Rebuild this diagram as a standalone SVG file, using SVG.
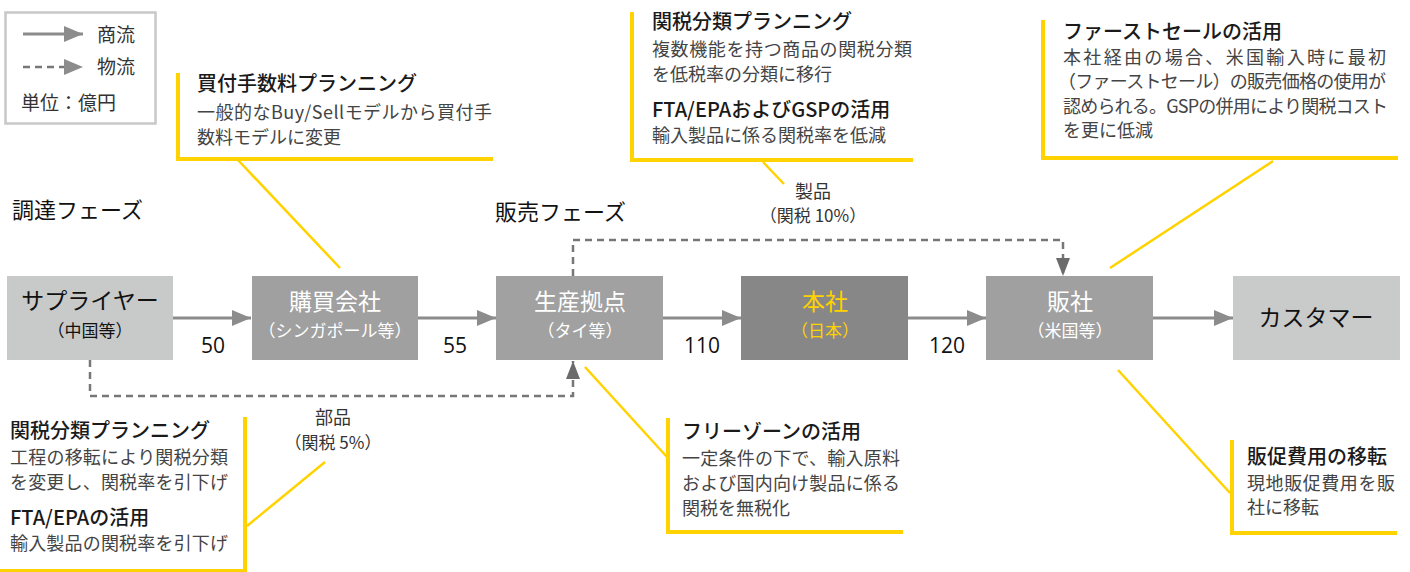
<svg xmlns="http://www.w3.org/2000/svg" width="1410" height="572" viewBox="0 0 1410 572">
<style>
text{font-family:"Noto Sans CJK JP","Noto Sans",sans-serif}
.ttl{font-size:20px;font-weight:500;fill:#1a1a1a}
.bd{font-size:18px;fill:#444}
.nt{font-size:23px;text-anchor:middle}
.ns{font-size:17px;text-anchor:middle}
.w{fill:#ffffff}
.k{fill:#111}
.y{fill:#FFD200}
.num{font-size:21px;fill:#111;text-anchor:middle;font-family:"Open Sans","Noto Sans",sans-serif}
.lbl{font-size:17px;fill:#333;text-anchor:middle}
.ph{font-size:22px;fill:#111}
.brk{fill:none;stroke:#FFD200;stroke-width:4}
.dg{stroke:#FFD200;stroke-width:2.5}
.sol{stroke:#8c8c8c;stroke-width:3;fill:none}
.dsh{stroke:#777;stroke-width:2.5;fill:none;stroke-dasharray:7 5}
</style>
<defs>
<marker id="ah" markerUnits="userSpaceOnUse" markerWidth="20" markerHeight="16" refX="19" refY="8" orient="auto"><path d="M0,0 L19,8 L0,16 Z" fill="#8c8c8c"/></marker>
<marker id="ahd" markerUnits="userSpaceOnUse" markerWidth="18" markerHeight="14" refX="18" refY="7" orient="auto"><path d="M0,0 L18,7 L0,14 Z" fill="#6b6b6b"/></marker>
</defs>

<g id="legend">
<rect x="5.5" y="12.5" width="150" height="111" fill="#fff" stroke="#c8c8c8" stroke-width="2.5"/>
<line x1="23" y1="34" x2="83" y2="34" class="sol" marker-end="url(#ah)"/>
<line x1="23" y1="67" x2="83" y2="67" class="dsh" marker-end="url(#ah)"/>
<text x="97" y="42" style="font-size:19px;fill:#333">商流</text>
<text x="97" y="74" style="font-size:19px;fill:#333">物流</text>
<text x="21" y="110" style="font-size:19px;fill:#333">単位：億円</text>
</g>

<g id="phases">
<text x="12" y="218" class="ph">調達フェーズ</text>
<text x="495" y="220" class="ph">販売フェーズ</text>
</g>

<g id="connectors">
<line x1="173" y1="318" x2="251" y2="318" class="sol" marker-end="url(#ah)"/>
<line x1="418" y1="318" x2="496" y2="318" class="sol" marker-end="url(#ah)"/>
<line x1="663" y1="318" x2="741" y2="318" class="sol" marker-end="url(#ah)"/>
<line x1="908" y1="318" x2="986" y2="318" class="sol" marker-end="url(#ah)"/>
<line x1="1153" y1="318" x2="1233" y2="318" class="sol" marker-end="url(#ah)"/>
<polyline points="90,360 90,396 573,396 573,361" class="dsh" marker-end="url(#ahd)"/>
<polyline points="573,276 573,240 1063,240 1063,276" class="dsh" marker-end="url(#ahd)"/>
<text x="213" y="353" class="num">50</text>
<text x="455" y="353" class="num">55</text>
<text x="702" y="353" class="num">110</text>
<text x="947" y="353" class="num">120</text>
<text x="813" y="198" class="lbl" style="font-size:18px">製品</text>
<text x="813" y="222" class="lbl">（関税 10%）</text>
<text x="333" y="424" class="lbl" style="font-size:18px">部品</text>
<text x="333" y="449" class="lbl">（関税 5%）</text>
</g>

<g id="supplier">
<rect x="7" y="276" width="166" height="84" fill="#c8c9c9"/>
<text x="90" y="309" class="nt k">サプライヤー</text>
<text x="90" y="337" class="ns k">（中国等）</text>
</g>
<g id="purchasing">
<rect x="252" y="276" width="166" height="84" fill="#a0a0a0"/>
<text x="335" y="310" class="nt w">購買会社</text>
<text x="335" y="337" class="ns w">（シンガポール等）</text>
</g>
<g id="production">
<rect x="496" y="276" width="167" height="84" fill="#a0a1a0"/>
<text x="580" y="310" class="nt w">生産拠点</text>
<text x="580" y="337" class="ns w">（タイ等）</text>
</g>
<g id="hq">
<rect x="741" y="276" width="167" height="84" fill="#888787"/>
<text x="825" y="310" class="nt y">本社</text>
<text x="825" y="337" class="ns y">（日本）</text>
</g>
<g id="sales">
<rect x="986" y="276" width="167" height="84" fill="#a0a0a0"/>
<text x="1070" y="310" class="nt w">販社</text>
<text x="1070" y="337" class="ns w">（米国等）</text>
</g>
<g id="customer">
<rect x="1233" y="276" width="167" height="84" fill="#c9caca"/>
<text x="1316" y="326" class="nt k">カスタマー</text>
</g>

<g id="callout-commission">
<polyline points="178,73 178,159 493,159" class="brk"/>
<line x1="238" y1="160" x2="340" y2="268" class="dg"/>
<text x="197" y="91" class="ttl">買付手数料プランニング</text>
<text x="197" y="119" class="bd" textLength="295" lengthAdjust="spacing">一般的なBuy/Sellモデルから買付手</text>
<text x="197" y="144" class="bd">数料モデルに変更</text>
</g>

<g id="callout-tariff-top">
<polyline points="632,12 632,160 913,160" class="brk"/>
<line x1="763" y1="162" x2="784" y2="184" class="dg"/>
<text x="652" y="29" class="ttl">関税分類プランニング</text>
<text x="652" y="56" class="bd" textLength="260" lengthAdjust="spacing">複数機能を持つ商品の関税分類</text>
<text x="652" y="81" class="bd">を低税率の分類に移行</text>
<text x="652" y="117" class="ttl">FTA/EPAおよびGSPの活用</text>
<text x="652" y="142" class="bd">輸入製品に係る関税率を低減</text>
</g>

<g id="callout-firstsale">
<polyline points="1043,20 1043,158 1398,158" class="brk"/>
<line x1="1273" y1="161" x2="1110" y2="268" class="dg"/>
<text x="1063" y="39" class="ttl">ファーストセールの活用</text>
<text x="1063" y="64" class="bd" textLength="323" lengthAdjust="spacing">本社経由の場合、米国輸入時に最初</text>
<text x="1058" y="88" class="bd" textLength="328" lengthAdjust="spacing">（ファーストセール）の販売価格の使用が</text>
<text x="1063" y="113" class="bd" textLength="325" lengthAdjust="spacing">認められる。GSPの併用により関税コスト</text>
<text x="1063" y="137" class="bd">を更に低減</text>
</g>

<g id="callout-tariff-bottom">
<polyline points="0,571 245,571 245,417" class="brk"/>
<line x1="247" y1="526" x2="325" y2="462" class="dg"/>
<text x="10" y="438" class="ttl">関税分類プランニング</text>
<text x="10" y="464" class="bd" textLength="218" lengthAdjust="spacing">工程の移転により関税分類</text>
<text x="10" y="489" class="bd" textLength="218" lengthAdjust="spacing">を変更し、関税率を引下げ</text>
<text x="10" y="525" class="ttl">FTA/EPAの活用</text>
<text x="10" y="550" class="bd" textLength="218" lengthAdjust="spacing">輸入製品の関税率を引下げ</text>
</g>

<g id="callout-freezone">
<polyline points="668,418 668,532 903,532" class="brk"/>
<line x1="585" y1="367" x2="667" y2="457" class="dg"/>
<text x="682" y="439" class="ttl">フリーゾーンの活用</text>
<text x="682" y="465" class="bd" textLength="218" lengthAdjust="spacing">一定条件の下で、輸入原料</text>
<text x="682" y="490" class="bd" textLength="218" lengthAdjust="spacing">および国内向け製品に係る</text>
<text x="682" y="515" class="bd">関税を無税化</text>
</g>

<g id="callout-promotion">
<polyline points="1232,440 1232,533 1397,533" class="brk"/>
<line x1="1118" y1="370" x2="1230" y2="493" class="dg"/>
<text x="1247" y="464" class="ttl">販促費用の移転</text>
<text x="1247" y="490" class="bd" textLength="148" lengthAdjust="spacing">現地販促費用を販</text>
<text x="1247" y="514" class="bd">社に移転</text>
</g>
</svg>
